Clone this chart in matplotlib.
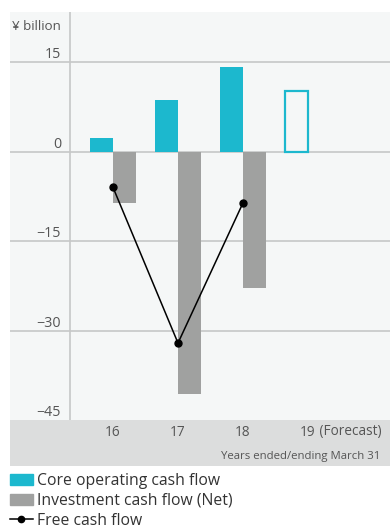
import matplotlib.pyplot as plt
from matplotlib.patches import Patch
from matplotlib.lines import Line2D
import matplotlib.transforms as mtransforms

plt.rcParams['font.family'] = ['Open Sans', 'DejaVu Sans']

# Cash flow figures, ¥ billion
years = ['16', '17', '18', '19']
core_cf = [2.3, 8.6, 14.1, 10.2]        # last one is the forecast
invest_cf = [-8.6, -40.7, -22.8]
free_cf = [-6.0, -32.1, -8.6]
yticks = [15, 0, -15, -30, -45]

teal = '#1cb8ce'
grey_bar = '#a0a1a0'
panel = '#f5f7f7'
band = '#dcdddd'
grid = '#c6c7c7'
txt = '#555555'

W, H = 390, 528
fig = plt.figure(figsize=(W / 100, H / 100), dpi=100)

def px_box(x0, y0, x1, y1):
    return [x0 / W, 1 - y1 / H, (x1 - x0) / W, (y1 - y0) / H]

ax = fig.add_axes(px_box(10, 12, 390, 420))
ax.set_facecolor(panel)
for s in ax.spines.values():
    s.set_visible(False)
ax.set_xticks([])
ax.set_yticks([])

# category i sits at pixel 113 + 65 * i
xmin, xmax = (10 - 113) / 65, (390 - 113) / 65
ax.set_xlim(xmin, xmax)
ax.set_ylim(-45, 23.4)

for y in yticks[:-1]:
    ax.axhline(y, color=grid, lw=1.2, zorder=1)
ax.axvline((70 - 113) / 65, color=grid, lw=1.2, zorder=1)

w = 23 / 65
x = list(range(len(years)))
# core bars sit left of the category position, investment bars right of it
ax.bar([i - w for i in x[:3]], core_cf[:3], width=w, align='edge',
       color=teal, zorder=2)
ax.bar(x[3] - w, core_cf[3], width=w, align='edge', facecolor='none',
       edgecolor=teal, lw=1.6, zorder=2)
ax.bar(x[:3], invest_cf, width=w, align='edge', color=grey_bar, zorder=2)
ax.plot(x[:3], free_cf, color='black', lw=1.1, marker='o', ms=5, zorder=3)

# y labels sit just above their gridlines, left of the axis line
ytr = ax.get_yaxis_transform()
lab_x = (61 - 10) / 380
for y in yticks:
    ax.text(lab_x, y, f'\u2212{abs(y)}' if y < 0 else str(y),
            transform=ytr, ha='right', va='bottom', fontsize=10.3, color=txt)
ax.text(lab_x, 1 - 8 / 408, '¥ billion', transform=ax.transAxes,
        ha='right', va='top', fontsize=9.6, color=txt)

# grey band with the year labels
bx = fig.add_axes(px_box(10, 420, 390, 466), sharex=ax)
bx.set_facecolor(band)
for s in bx.spines.values():
    s.set_visible(False)
bx.tick_params(left=False, bottom=False, labelleft=False, labelbottom=False)
bx.set_ylim(0, 46)
for i, yr in enumerate(years):
    t = bx.text(i, 34, yr, ha='center', va='center', fontsize=9.8, color=txt)
bx.annotate(' (Forecast)', xy=(1, 0.5), xycoords=t, ha='left', va='center',
            fontsize=9.8, color=txt)
bx.text((380 - 10) / 380, 10, 'Years ended/ending March 31',
        transform=mtransforms.blended_transform_factory(bx.transAxes, bx.transData),
        ha='right', va='center', fontsize=8.2, color=txt)

handles = [Patch(color=teal), Patch(color=grey_bar),
           Line2D([], [], color='black', lw=1.1, marker='o', ms=4.5)]
labels = ['Core operating cash flow', 'Investment cash flow (Net)', 'Free cash flow']
fig.legend(handles, labels, loc='upper left', bbox_to_anchor=(-2 / W, 1 - 461 / H),
           frameon=False, fontsize=11.3, handlelength=1.45, handleheight=0.75,
           handletextpad=0.3, labelspacing=0.26, borderpad=0.25,
           labelcolor='#333333')

fig.savefig('out.png', dpi=100)
